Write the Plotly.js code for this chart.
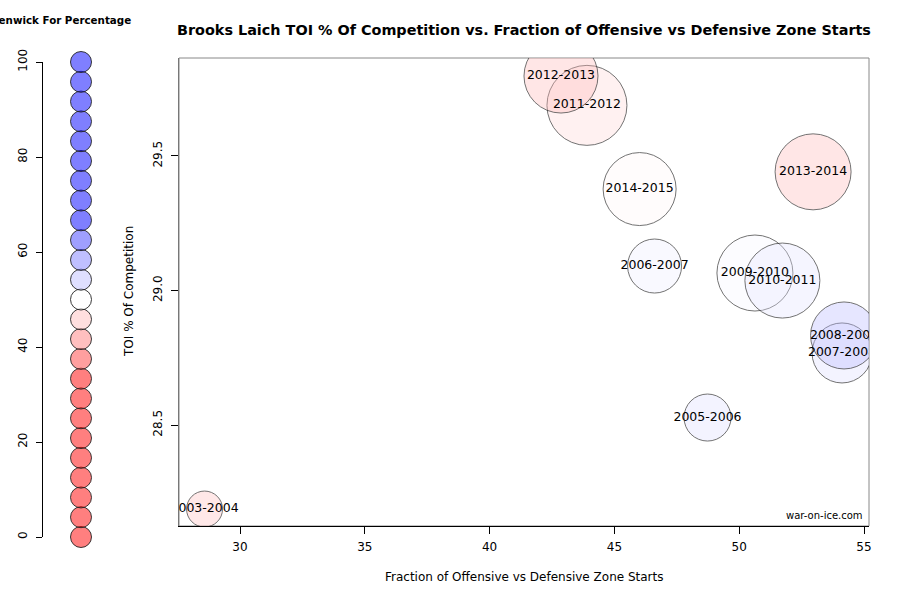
<!DOCTYPE html>
<html>
<head>
<meta charset="utf-8">
<script src="https://cdn.plot.ly/plotly-3.0.1.min.js"></script>
<style>html,body{margin:0;padding:0;background:#fff;}#chart{width:900px;height:600px;}</style>
</head>
<body>
<div id="chart"></div>
<script>
// ---- data ----
const seasons = ["2003-2004","2005-2006","2006-2007","2007-2008","2008-2009","2009-2010","2010-2011","2011-2012","2012-2013","2013-2014","2014-2015"];
const zoneStartFraction = [28.58, 48.73, 46.61, 54.12, 54.20, 50.63, 51.73, 43.90, 42.86, 52.96, 46.01];
const toiPctCompetition = [28.188, 28.528, 29.091, 28.768, 28.833, 29.065, 29.037, 29.688, 29.797, 29.441, 29.377];
const fenwickForPct = [45.9, 52.2, 51.0, 52.0, 54.5, 50.3, 51.7, 47.5, 45.5, 45.5, 49.6];
const bubbleValue = [36, 47, 54, 60, 67, 76, 75, 80, 74, 76, 73];
const legendValues = [0, 4.17, 8.33, 12.5, 16.67, 20.83, 25, 29.17, 33.33, 37.5, 41.67, 45.83, 50, 54.17, 58.33, 62.5, 66.67, 70.83, 75, 79.17, 83.33, 87.5, 91.67, 95.83, 100];
const xTicks = [30, 35, 40, 45, 50, 55];
const yTicks = [28.5, 29.0, 29.5];
const legendTicks = [0, 20, 40, 60, 80, 100];

// ---- styling ----
const FONT = "DejaVu Sans, Liberation Sans, sans-serif";
const scale = [
  [0, "rgba(255,0,0,0.5)"],
  [0.3333, "rgba(255,0,0,0.5)"],
  [0.5, "rgba(255,255,255,0.5)"],
  [0.6667, "rgba(0,0,255,0.5)"],
  [1, "rgba(0,0,255,0.5)"]
];
const W = 900, H = 600;
const px = v => v / W, py = v => 1 - v / H;

const bubbles = {
  type: "scatter",
  mode: "markers+text",
  x: zoneStartFraction,
  y: toiPctCompetition,
  text: seasons,
  textposition: "middle center",
  textfont: {family: FONT, size: 12.5, color: "#000"},
  marker: {
    size: bubbleValue,
    sizemode: "diameter",
    sizeref: 1,
    color: fenwickForPct,
    colorscale: scale,
    cmin: 0, cmax: 100,
    showscale: false,
    line: {color: "#222", width: 0.9}
  },
  hoverinfo: "skip",
  xaxis: "x", yaxis: "y",
  cliponaxis: true
};

const legendDots = {
  type: "scatter",
  mode: "markers",
  x: legendValues.map(() => 0.5),
  y: legendValues,
  marker: {
    size: 21,
    color: legendValues,
    colorscale: scale,
    cmin: 0, cmax: 100,
    showscale: false,
    line: {color: "#222", width: 0.9}
  },
  hoverinfo: "skip",
  xaxis: "x2", yaxis: "y2",
  cliponaxis: false
};

const layout = {
  width: W, height: H,
  margin: {l: 0, r: 0, t: 0, b: 0},
  paper_bgcolor: "#fff",
  plot_bgcolor: "#fff",
  showlegend: false,
  font: {family: FONT, size: 12, color: "#000"},
  xaxis: {
    domain: [px(179), px(869)],
    range: [27.556, 55.2],
    tickvals: xTicks,
    ticktext: xTicks.map(String),
    ticks: "outside", ticklen: 7, tickcolor: "#000", tickwidth: 1,
    ticklabelstandoff: 3,
    showline: true, linecolor: "#000", linewidth: 1,
    showgrid: false, zeroline: false,
    tickfont: {family: FONT, size: 12, color: "#000"},
    anchor: "y"
  },
  yaxis: {
    domain: [py(526), py(58)],
    range: [28.125, 29.864],
    tickvals: yTicks,
    ticktext: yTicks.map(v => v.toFixed(1)),
    tickangle: -90,
    ticks: "outside", ticklen: 7, tickcolor: "#000", tickwidth: 1,
    ticklabelstandoff: 4,
    showline: true, linecolor: "#777", linewidth: 1,
    showgrid: false, zeroline: false,
    tickfont: {family: FONT, size: 12, color: "#000"},
    anchor: "x"
  },
  xaxis2: {
    domain: [px(60), px(102)],
    range: [0, 1],
    visible: false,
    anchor: "y2"
  },
  yaxis2: {
    domain: [py(537), py(62)],
    range: [0, 100],
    tickvals: legendTicks,
    ticktext: legendTicks.map(String),
    tickangle: -90,
    ticks: "outside", ticklen: 6, tickcolor: "#000",
    ticklabelstandoff: 4,
    showline: true, linecolor: "#000", linewidth: 1,
    showgrid: false, zeroline: false,
    tickfont: {family: FONT, size: 12, color: "#000"},
    anchor: "free",
    position: px(42)
  },
  shapes: [
    {type: "rect", xref: "paper", yref: "paper",
     x0: px(179), x1: px(869), y0: py(526), y1: py(58),
     line: {color: "#888", width: 1}, fillcolor: "rgba(0,0,0,0)", layer: "below"}
  ],
  annotations: [
    {text: "<b>Brooks Laich TOI % Of Competition vs. Fraction of Offensive vs Defensive Zone Starts</b>",
     xref: "paper", yref: "paper", x: px(523.5), y: py(30), xanchor: "center", yanchor: "middle",
     showarrow: false, font: {family: FONT, size: 14.4, color: "#000"}},
    {text: "<b>Fenwick For Percentage</b>",
     xref: "paper", yref: "paper", x: px(61), y: py(20), xanchor: "center", yanchor: "middle",
     showarrow: false, font: {family: FONT, size: 10.3, color: "#000"}},
    {text: "Fraction of Offensive vs Defensive Zone Starts",
     xref: "paper", yref: "paper", x: px(524), y: py(577), xanchor: "center", yanchor: "middle",
     showarrow: false, font: {family: FONT, size: 12, color: "#000"}},
    {text: "TOI % Of Competition",
     xref: "paper", yref: "paper", x: px(129), y: py(292), xanchor: "center", yanchor: "middle",
     textangle: -90, showarrow: false, font: {family: FONT, size: 12, color: "#000"}},
    {text: "war-on-ice.com",
     xref: "paper", yref: "paper", x: px(865), y: py(515), xanchor: "right", yanchor: "middle",
     showarrow: false, font: {family: FONT, size: 10, color: "#000"}}
  ]
};

Plotly.newPlot("chart", [bubbles, legendDots], layout, {staticPlot: true, displayModeBar: false});
</script>
</body>
</html>
